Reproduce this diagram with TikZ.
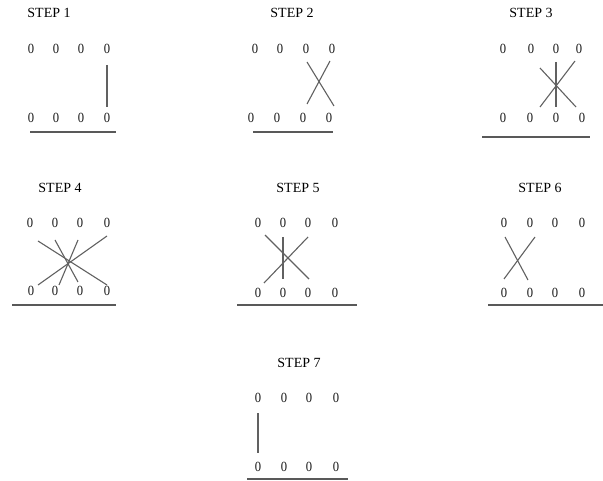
\documentclass[tikz,border=0pt]{standalone}
\usepackage{fontspec}
\setmainfont{Liberation Serif}
\begin{document}
\begin{tikzpicture}[x=1pt,y=-1pt,
  lbl/.style={inner sep=0pt,font=\fontsize{14}{14}\selectfont,text=black},
  zero/.style={inner sep=0pt,font=\fontsize{14}{14}\selectfont,text=black!90,xscale=0.9},
  stroke/.style={draw=black!62,line width=1.1pt},
  base/.style={draw=black!65,line width=1.4pt}]
\useasboundingbox (0,0) rectangle (603,481);
% STEP 1
\node[lbl] (l1) at (49,13) {STEP 1};
\foreach \x/\n in {31/a,56/b,81/c,107/d}{\node[zero] (t1\n) at (\x,49) {0};\node[zero] (b1\n) at (\x,118) {0};}
\coordinate (u1a) at (30,132); \coordinate (u1b) at (116,132);
\draw[base] (u1a) -- (u1b);
\draw[stroke] (107,65) -- (107,107);
% STEP 2
\node[lbl] (l2) at (292,13) {STEP 2};
\foreach \x/\n in {255/a,280/b,306/c,332/d}{\node[zero] (t2\n) at (\x,49) {0};}
\foreach \x/\n in {251/a,277/b,303/c,329/d}{\node[zero] (b2\n) at (\x,118) {0};}
\draw[base] (253,132) -- (333,132);
\draw[stroke] (307,62) -- (334,106);
\draw[stroke] (330,61) -- (307,104);
% STEP 3
\node[lbl] (l3) at (531,13) {STEP 3};
\foreach \x/\n in {503/a,531/b,556/c,579/d}{\node[zero] (t3\n) at (\x,49) {0};}
\foreach \x/\n in {503/a,530/b,556/c,582/d}{\node[zero] (b3\n) at (\x,118) {0};}
\draw[base] (482,137) -- (590,137);
\draw[stroke] (556,62) -- (556,107);
\draw[stroke] (540,68) -- (576,107);
\draw[stroke] (575,61) -- (540,107);
% STEP 4
\node[lbl] (l4) at (60,188) {STEP 4};
\foreach \x/\n in {30/a,55/b,80/c,107/d}{\node[zero] (t4\n) at (\x,223) {0};}
\foreach \x/\n in {31/a,55/b,80/c,107/d}{\node[zero] (b4\n) at (\x,291) {0};}
\draw[base] (12,305) -- (116,305);
\draw[stroke] (38,241) -- (107,285);
\draw[stroke] (55,240) -- (78,282);
\draw[stroke] (78,240) -- (59,285);
\draw[stroke] (107,236) -- (38,285);
% STEP 5
\node[lbl] (l5) at (298,188) {STEP 5};
\foreach \x/\n in {258/a,283/b,308/c,335/d}{\node[zero] (t5\n) at (\x,223) {0};\node[zero] (b5\n) at (\x,293) {0};}
\draw[base] (237,305) -- (357,305);
\draw[stroke] (283,237) -- (283,279);
\draw[stroke] (265,235) -- (309,279);
\draw[stroke] (308,237) -- (264,283);
% STEP 6
\node[lbl] (l6) at (540,188) {STEP 6};
\foreach \x/\n in {504/a,530/b,555/c,582/d}{\node[zero] (t6\n) at (\x,223) {0};\node[zero] (b6\n) at (\x,293) {0};}
\draw[base] (488,305) -- (603,305);
\draw[stroke] (505,237) -- (528,280);
\draw[stroke] (535,237) -- (504,279);
% STEP 7
\node[lbl] (l7) at (299,363) {STEP 7};
\foreach \x/\n in {258/a,284/b,309/c,336/d}{\node[zero] (t7\n) at (\x,398) {0};\node[zero] (b7\n) at (\x,467) {0};}
\draw[base] (247,479) -- (348,479);
\draw[stroke] (258,413) -- (258,453);
\end{tikzpicture}
\end{document}
